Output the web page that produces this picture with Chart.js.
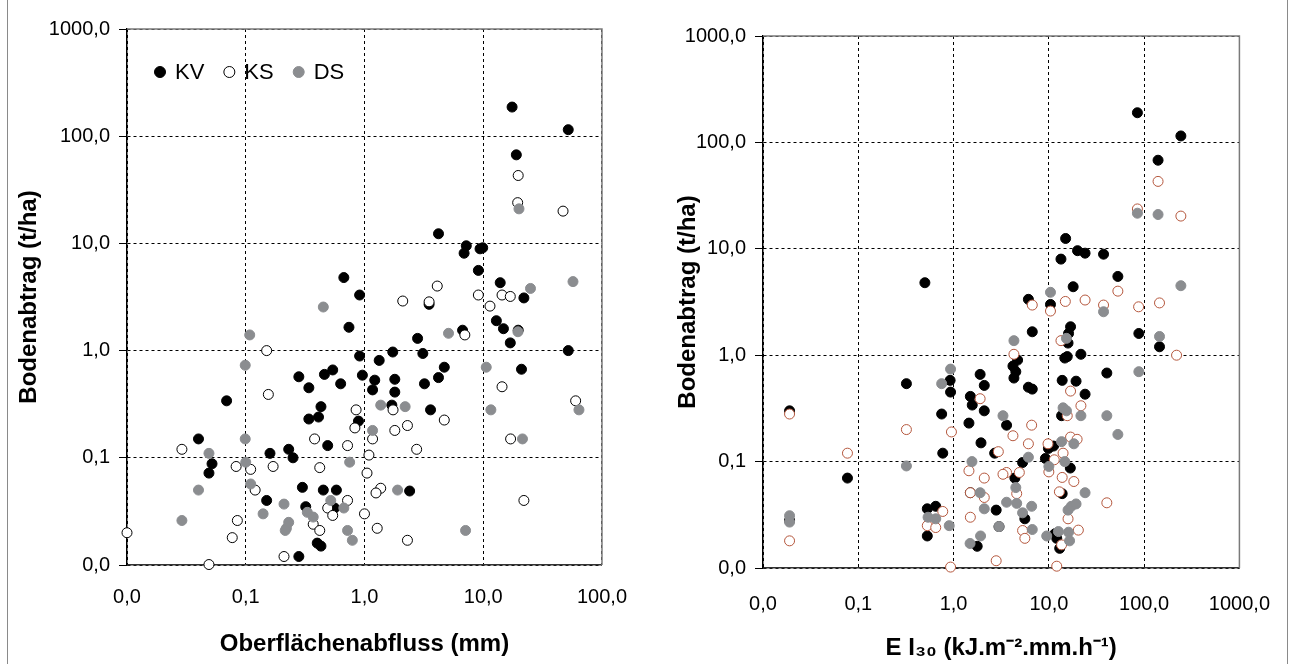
<!DOCTYPE html>
<html>
<head>
<meta charset="utf-8">
<script src="https://cdn.jsdelivr.net/npm/chart.js@4.4.1/dist/chart.umd.min.js"></script>
<style>
  body { margin: 0; background: #fff; }
  #wrap { position: relative; width: 1294px; height: 664px; overflow: hidden; background: #fff; }
  #frame { position: absolute; left: 7px; top: -2px; width: 1279px; height: 700px; border-left: 1px solid #8a8a8a; border-right: 1px solid #8a8a8a; }
  canvas { position: absolute; top: 0; }
</style>
</head>
<body>
<div id="wrap">
  <div id="frame"></div>
  <canvas id="runoffChart" width="647" height="664" style="left:0px"></canvas>
  <canvas id="ei30Chart" width="647" height="664" style="left:647px"></canvas>
</div>
<script>
// Tick values (log decades)
const runoffTicks = [0.01, 0.1, 1, 10, 100];
const ei30Ticks = [0.01, 0.1, 1, 10, 100, 1000];
const lossTicks = [0.01, 0.1, 1, 10, 100, 1000];

// Left panel: Oberflaechenabfluss (mm) vs Bodenabtrag (t/ha)
const kvRunoff = [17.5,52,19,4.2,7.2,6.9,9.4,9.9,9.1,13.9,22,12.9,14.8,19.7,16.9,52,6.7,2.8,1.73,3.1,1.33,4.7,4.2,21,1.22,1.8,1.17,1.8,3.2,1.7,3.6,2.4,3.5,0.67,0.91,0.74,0.91,0.96,0.28,0.46,0.54,0.63,0.34,0.069,0.43,0.34,0.41,0.89,0.49,0.040,0.052,0.049,0.23,0.25,0.16,0.15,0.30,0.45,0.58,0.32,0.56,0.40,0.43,0.28];
const kvLossA = [187,115,67,12.3,9.5,8.1,8.9,9.1,5.6,4.3,3.1,1.9,1.6,1.55,1.18,1.0,1.55,1.3,0.97,0.94,0.81,0.70,0.56,0.67,0.53,0.54,0.43,0.41,0.49,0.31,0.28,0.049,2.7,4.8,3.3,1.65,0.89,0.59,0.57,0.60,0.66,0.49,0.45,0.34,0.30,0.23,0.24,0.22,0.13,0.15,0.088,0.072,0.12,0.10,0.11,0.040,0.053,0.050,0.050,0.035,0.034,0.016,0.015,0.012];
const ksRunoff = [19.7,19.5,47,4.1,2.1,3.5,9.1,14.4,16.9,11.4,7.0,14.4,1.74,4.7,60,1.17,1.8,2.3,2.75,1.09,17,1.05,1.37,1.25,22,1.0,1.28,2.3,0.15,0.155,0.85,0.83,0.38,0.72,0.029,0.083,0.11,0.17,0.42,0.12,0.49,0.54,0.72,0.37,0.42,0.085,0.077,0.01,0.049,0.21];
const ksLossA = [43,24,20,4.0,2.9,2.85,3.3,3.3,3.2,2.6,1.4,0.46,0.28,0.225,0.34,0.15,0.18,0.20,0.12,0.106,0.15,0.072,0.052,0.047,0.040,0.030,0.022,0.017,1.0,0.39,0.28,0.19,0.15,0.13,0.12,0.083,0.078,0.083,0.081,0.050,0.034,0.029,0.040,0.024,0.021,0.026,0.018,0.020,0.0101,0.012];
const dsRunoff = [20,25,57,19.6,5.1,10.6,1.37,2.2,11.6,64,1.17,21.4,1.9,7.1,0.45,0.108,0.099,0.099,0.049,0.10,0.75,0.040,0.11,0.21,0.52,0.67,0.33,0.37,0.14,0.029,0.23,0.22,0.215,0.72,0.79];
const dsLossA = [21,3.8,4.4,1.5,1.45,0.70,0.31,0.30,0.28,0.28,0.18,0.15,0.050,0.021,2.55,1.4,0.73,0.15,0.11,0.091,0.091,0.050,0.057,0.037,0.040,0.034,0.031,0.028,0.030,0.026,0.025,0.022,0.021,0.021,0.017];

// Right panel: E I30 vs Bodenabtrag (t/ha)
const kvEI30 = [85,243,140,15,20,24,13.4,37.5,53,18,6.1,10.4,6.7,16.9,16.1,15.9,88,145,4.7,4.2,4.5,4.3,14.7,15.6,21.7,40.6,6.1,6.7,13.8,19.3,24,13.6,3.6,9.9,11.2,9.2,5.3,16.8,4.4,13.8,2.8,5.6,3.0,11.6,12.1,13,1.9,2.1,1.5,1.57,2.1,1.45,1.94,2.7,1.5,1.77,0.32,0.92,0.93,0.75,0.77,0.53,0.65,0.53,0.077,0.019,0.019,0.50];
const kvLossB = [190,115,68,12.5,9.6,9.1,8.0,8.9,5.5,4.4,3.35,3.0,1.66,1.85,1.6,1.3,1.6,1.2,0.90,0.79,0.70,0.61,0.94,0.97,1.02,0.68,0.50,0.48,0.58,0.57,0.43,0.27,0.22,0.133,0.14,0.107,0.098,0.087,0.070,0.050,0.035,0.029,0.0245,0.021,0.019,0.0153,0.66,0.52,0.41,0.34,0.30,0.23,0.15,0.12,0.051,0.016,0.54,0.58,0.45,0.28,0.12,0.036,0.038,0.020,0.070,0.30,0.028,4.8];
const ksEI30 = [140,85,243,53,6.7,10.4,14.9,24,37.5,87.5,145,219,13.4,4.3,16.9,21.7,15.6,6.6,4.2,6.1,2.95,9.8,16.9,19.8,14.1,11.4,10,3.6,4.9,4.6,13.8,18.3,12.9,40.6,15.9,5.3,5.6,20.4,13.6,2.8,12.1,0.019,0.077,0.019,0.32,0.95,1.9,1.45,2.1,3.3,1.5,2.1,1.5,0.77,0.53,0.65,0.93];
const ksLossB = [43,23.7,20.3,4.0,2.96,2.6,3.2,3.3,2.96,2.85,3.1,1.0,1.37,1.02,0.46,0.335,0.27,0.22,0.175,0.147,0.124,0.147,0.17,0.162,0.12,0.104,0.080,0.079,0.079,0.050,0.071,0.065,0.052,0.041,0.029,0.0225,0.019,0.0227,0.0165,0.0117,0.0104,0.28,0.12,0.018,0.20,0.19,0.39,0.082,0.070,0.076,0.051,0.046,0.030,0.034,0.025,0.024,0.0102];
const dsEI30 = [85,140,243,10.4,37.5,15.3,4.3,145,88,14.1,15.3,21.7,40.6,53,3.3,13.6,18.3,6.1,10,14.7,4.5,24,3.6,4.6,5.3,6.6,15.9,17.2,19.3,6.7,9.5,12.6,16.1,16.5,3.0,0.93,0.75,0.32,1.56,1.9,2.1,1.92,1.49,0.54,0.65,0.90,0.019,0.019];
const dsLossB = [21.6,21,4.5,3.9,2.56,1.44,1.37,1.5,0.70,0.32,0.30,0.27,0.27,0.18,0.27,0.154,0.147,0.11,0.09,0.10,0.057,0.051,0.0415,0.0405,0.033,0.038,0.035,0.038,0.040,0.023,0.020,0.022,0.0217,0.018,0.0245,0.74,0.54,0.091,0.10,0.051,0.036,0.020,0.017,0.030,0.029,0.025,0.031,0.027];

const GRAY = '#8b8d90';
const FONT = 'Arial, "Liberation Sans", sans-serif';

// pair x and y arrays into scatter points
function zip(xs, ys) {
    return xs.map((x, i) => ({ x: x, y: ys[i] }));
}

// number format like the original: one decimal, comma separator
function fmt(v) {
    return Number(v).toFixed(1).replace('.', ',');
}

// draws top and right frame of the plot area
const framePlugin = {
    id: 'frame',
    afterDraw(chart) {
        const a = chart.chartArea;
        const ctx = chart.ctx;
        ctx.save();
        ctx.strokeStyle = '#7a7a7a';
        ctx.lineWidth = 1.5;
        ctx.beginPath();
        ctx.moveTo(a.left, a.top);
        ctx.lineTo(a.right, a.top);
        ctx.lineTo(a.right, a.bottom);
        ctx.stroke();
        ctx.restore();
    }
};

// small legend inside the plot, drawn from the dataset labels
const innerLegend = {
    id: 'innerLegend',
    afterDraw(chart, args, opts) {
        if (!opts.show) return;
        const ctx = chart.ctx;
        const a = chart.chartArea;
        let x = a.left + 33;
        const y = a.top + 43;
        ctx.save();
        ctx.font = '22px ' + FONT;
        ctx.textBaseline = 'middle';
        chart.data.datasets.forEach(ds => {
            ctx.beginPath();
            ctx.arc(x, y, 5.5, 0, Math.PI * 2);
            ctx.fillStyle = ds.pointBackgroundColor;
            ctx.fill();
            ctx.lineWidth = 1;
            ctx.strokeStyle = ds.pointBorderColor;
            ctx.stroke();
            ctx.fillStyle = '#000';
            ctx.fillText(ds.label, x + 15, y + 1);
            x += 15 + ctx.measureText(ds.label).width + 25;
        });
        ctx.restore();
    }
};

function makeChart(canvasId, cfg) {
    const ctx = document.getElementById(canvasId).getContext('2d');
    return new Chart(ctx, {
        type: 'scatter',
        data: {
            datasets: [
                {
                    label: 'KV',
                    data: zip(cfg.kv[0], cfg.kv[1]),
                    pointBackgroundColor: '#000',
                    pointBorderColor: '#000',
                    order: 3
                },
                {
                    label: 'KS',
                    data: zip(cfg.ks[0], cfg.ks[1]),
                    pointBackgroundColor: '#fff',
                    pointBorderColor: cfg.ksColor,
                    order: 2
                },
                {
                    label: 'DS',
                    data: zip(cfg.ds[0], cfg.ds[1]),
                    pointBackgroundColor: GRAY,
                    pointBorderColor: GRAY,
                    order: 1
                }
            ]
        },
        options: {
            responsive: false,
            animation: false,
            clip: false,
            elements: {
                point: { radius: 5, borderWidth: 1, hoverRadius: 5 }
            },
            layout: { padding: cfg.padding },
            plugins: {
                legend: { display: false },
                tooltip: { enabled: false },
                innerLegend: { show: cfg.legend }
            },
            scales: {
                x: {
                    type: 'logarithmic',
                    min: cfg.xTicks[0],
                    max: cfg.xTicks[cfg.xTicks.length - 1],
                    afterBuildTicks: s => { s.ticks = cfg.xTicks.map(v => ({ value: v })); },
                    afterFit: s => { s.height = cfg.xHeight; },
                    grid: { color: '#000', lineWidth: 1, drawTicks: false },
                    border: { color: '#333', width: 1.5, dash: [3, 3] },
                    ticks: {
                        callback: v => fmt(v),
                        autoSkip: false, maxRotation: 0, minRotation: 0,
                        padding: cfg.xTickPad,
                        color: '#000',
                        font: { family: FONT, size: 20 }
                    },
                    title: {
                        display: true,
                        text: cfg.xTitle,
                        color: '#000',
                        padding: { top: 0, bottom: cfg.xTitlePad },
                        font: { family: FONT, size: 24, weight: 'bold' }
                    }
                },
                y: {
                    type: 'logarithmic',
                    min: 0.01,
                    max: 1000,
                    afterBuildTicks: s => { s.ticks = lossTicks.map(v => ({ value: v })); },
                    afterFit: s => { s.width = cfg.yWidth; },
                    grid: { color: '#000', lineWidth: 1, drawTicks: true, tickLength: 8, tickColor: '#000', tickBorderDash: [] },
                    border: { color: '#000', width: 1.5, dash: [3, 3] },
                    ticks: {
                        callback: v => fmt(v),
                        autoSkip: false,
                        padding: 9,
                        color: '#000',
                        font: { family: FONT, size: 20 }
                    },
                    title: {
                        display: true,
                        text: 'Bodenabtrag (t/ha)',
                        color: '#000',
                        padding: { top: cfg.yTitlePad, bottom: 0 },
                        font: { family: FONT, size: 24, weight: 'bold' }
                    }
                }
            }
        },
        plugins: [framePlugin, innerLegend]
    });
}

makeChart('runoffChart', {
    kv: [kvRunoff, kvLossA],
    ks: [ksRunoff, ksLossA],
    ds: [dsRunoff, dsLossA],
    ksColor: '#000',
    legend: true,
    xTicks: runoffTicks,
    xTitle: 'Oberflächenabfluss (mm)',
    padding: { left: 0, top: 29, right: 31, bottom: 0 },
    yWidth: 127,
    xHeight: 99,
    xTickPad: 20,
    yTitlePad: 15,
    xTitlePad: 5
});

makeChart('ei30Chart', {
    kv: [kvEI30, kvLossB],
    ks: [ksEI30, ksLossB],
    ds: [dsEI30, dsLossB],
    ksColor: '#b4563c',
    legend: false,
    xTicks: ei30Ticks,
    xTitle: 'E I\u2083\u2080 (kJ.m\u207B\u00B2.mm.h\u207B\u00B9)',
    padding: { left: 0, top: 36, right: 41, bottom: 0 },
    yWidth: 116,
    xHeight: 96,
    xTickPad: 24,
    yTitlePad: 27,
    xTitlePad: 1
});
</script>
</body>
</html>
